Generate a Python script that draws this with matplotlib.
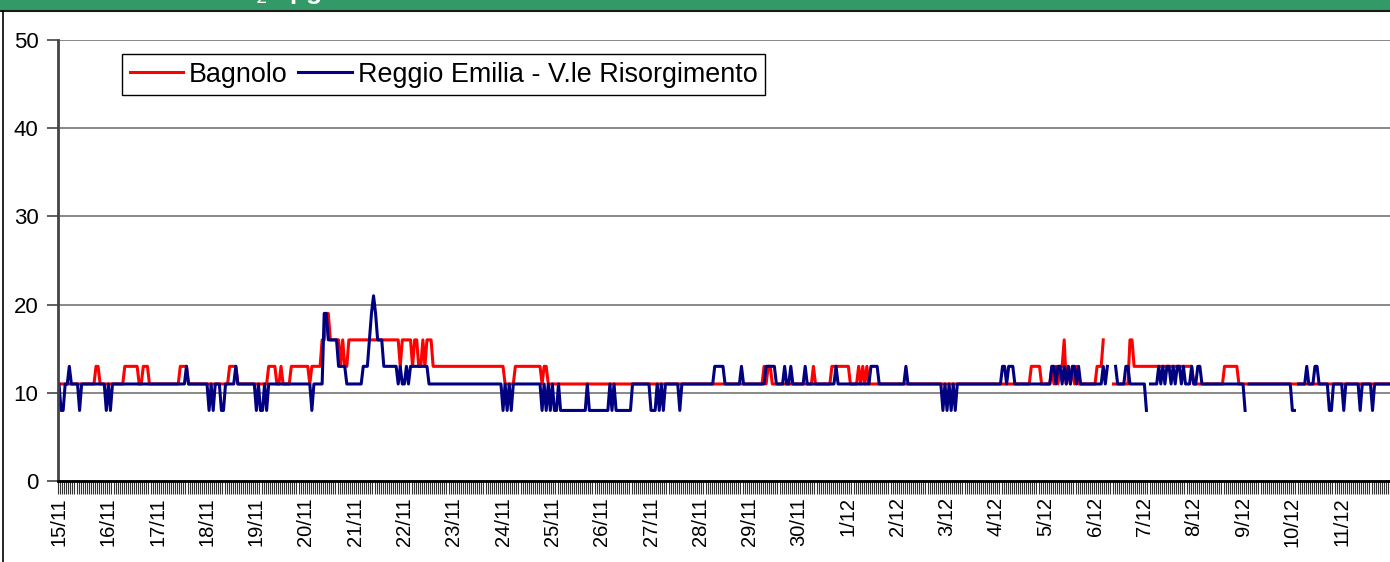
import numpy as np
import matplotlib
matplotlib.use("Agg")
import matplotlib.pyplot as plt
from matplotlib.patches import Rectangle
from matplotlib.lines import Line2D

plt.rcParams['font.family'] = ['Liberation Sans', 'DejaVu Sans']

nan = np.nan

# day labels (one every 24 hourly values)
days = ["15/11", "16/11", "17/11", "18/11", "19/11", "20/11", "21/11", "22/11",
        "23/11", "24/11", "25/11", "26/11", "27/11", "28/11", "29/11", "30/11",
        "1/12", "2/12", "3/12", "4/12", "5/12", "6/12", "7/12", "8/12",
        "9/12", "10/12", "11/12"]

# hourly values, one row per day (ug/m3)
bagnolo = [
    [11,11,11,11,11,11,11,11,11,11,11,11,11,11,11,11,11,11,13,13,11,11,11,11],
    [11,11,11,11,11,11,11,11,13,13,13,13,13,13,13,11,11,13,13,13,11,11,11,11],
    [11,11,11,11,11,11,11,11,11,11,11,13,13,13,13,11,11,11,11,11,11,11,11,11],
    [11,11,11,11,11,11,11,11,11,11,11,13,13,13,13,11,11,11,11,11,11,11,11,11],
    [11,11,11,11,11,11,13,13,13,13,11,11,13,11,11,11,11,13,13,13,13,13,13,13],
    [13,13,11,13,13,13,13,13,16,16,19,19,16,16,16,16,16,13,16,13,13,16,16,16],
    [16,16,16,16,16,16,16,16,16,16,16,16,16,16,16,16,16,16,16,16,16,16,13,16],
    [16,16,16,16,13,16,16,13,13,16,13,16,16,16,13,13,13,13,13,13,13,13,13,13],
    [13,13,13,13,13,13,13,13,13,13,13,13,13,13,13,13,13,13,13,13,13,13,13,13],
    [13,11,11,11,11,11,13,13,13,13,13,13,13,13,13,13,13,13,13,11,13,13,11,11],
    [11,11,11,11,11,11,11,11,11,11,11,11,11,11,11,11,11,11,11,11,11,11,11,11],
    [11,11,11,11,11,11,11,11,11,11,11,11,11,11,11,11,11,11,11,11,11,11,11,11],
    [11,11,11,11,11,11,11,11,11,11,11,11,11,11,11,11,11,11,11,11,11,11,11,11],
    [11,11,11,11,11,11,11,11,11,11,11,11,11,11,11,11,11,11,11,11,11,11,11,11],
    [11,11,11,11,11,11,11,13,11,13,13,11,11,11,11,11,11,11,11,11,11,11,11,11],
    [11,11,11,11,11,11,11,13,11,11,11,11,11,11,11,11,13,13,13,13,13,13,13,13],
    [13,11,11,11,11,13,11,13,11,13,11,11,11,11,11,11,11,11,11,11,11,11,11,11],
    [11,11,11,11,11,11,11,11,11,11,11,11,11,11,11,11,11,11,11,11,11,11,11,11],
    [11,11,11,11,11,11,11,11,11,11,11,11,11,11,11,11,11,11,11,11,11,11,11,11],
    [11,11,11,11,11,11,11,11,11,11,11,11,11,11,11,11,11,13,13,13,13,13,11,11],
    [11,11,11,13,11,13,11,13,13,16,11,13,11,13,11,13,11,11,11,11,11,11,11,11],
    [11,13,13,13,16,nan,nan,nan,nan,11,11,11,11,11,11,11,11,16,16,13,13,13,13,13],
    [13,13,13,13,13,13,13,13,13,13,13,13,13,13,13,13,13,13,13,13,13,13,13,13],
    [11,11,11,11,11,11,11,11,11,11,11,11,11,11,11,13,13,13,13,13,13,13,11,11],
    [11,11,11,11,11,11,11,11,11,11,11,11,11,11,11,11,11,11,11,11,11,11,11,11],
    [11,11,11,11,11,11,11,11,11,11,11,11,11,11,11,11,11,11,11,11,11,11,11,11],
    [11,11,11,11,11,11,11,11,11,11,11,11,11,11,11,11,11,11,11,11,11,11,11,11],
]

reggio = [
    [11,8,8,11,11,13,11,11,11,11,8,11,11,11,11,11,11,11,11,11,11,11,11,8],
    [11,8,11,11,11,11,11,11,11,11,11,11,11,11,11,11,11,11,11,11,11,11,11,11],
    [11,11,11,11,11,11,11,11,11,11,11,11,11,11,13,11,11,11,11,11,11,11,11,11],
    [11,8,11,8,11,11,11,8,8,11,11,11,11,11,13,11,11,11,11,11,11,11,11,11],
    [8,11,8,8,11,8,11,11,11,11,11,11,11,11,11,11,11,11,11,11,11,11,11,11],
    [11,11,11,8,11,11,11,11,11,19,19,16,16,16,16,16,13,13,13,13,11,11,11,11],
    [11,11,11,11,13,13,13,16,19,21,19,16,16,16,13,13,13,13,13,13,13,11,13,11],
    [11,13,11,13,13,13,13,13,13,13,13,13,11,11,11,11,11,11,11,11,11,11,11,11],
    [11,11,11,11,11,11,11,11,11,11,11,11,11,11,11,11,11,11,11,11,11,11,11,11],
    [8,11,8,11,8,11,11,11,11,11,11,11,11,11,11,11,11,11,11,8,11,8,11,8],
    [11,8,8,11,8,8,8,8,8,8,8,8,8,8,8,8,8,11,8,8,8,8,8,8],
    [8,8,8,8,11,8,11,8,8,8,8,8,8,8,8,11,11,11,11,11,11,11,11,11],
    [8,8,8,11,8,11,8,11,11,11,11,11,11,11,8,11,11,11,11,11,11,11,11,11],
    [11,11,11,11,11,11,11,13,13,13,13,13,11,11,11,11,11,11,11,11,13,11,11,11],
    [11,11,11,11,11,11,11,11,13,13,13,13,13,11,11,11,11,13,11,11,13,11,11,11],
    [11,11,11,13,11,11,11,11,11,11,11,11,11,11,11,11,11,11,13,11,11,11,11,11],
    [11,11,11,11,11,11,11,11,11,11,11,13,13,13,13,11,11,11,11,11,11,11,11,11],
    [11,11,11,11,13,11,11,11,11,11,11,11,11,11,11,11,11,11,11,11,11,11,8,11],
    [8,11,8,11,8,11,11,11,11,11,11,11,11,11,11,11,11,11,11,11,11,11,11,11],
    [11,11,11,13,13,11,13,13,13,11,11,11,11,11,11,11,11,11,11,11,11,11,11,11],
    [11,11,11,13,13,11,13,13,11,13,11,13,11,13,13,11,13,11,11,11,11,11,11,11],
    [11,11,11,11,13,11,13,nan,nan,nan,13,11,11,11,11,13,13,11,11,11,11,11,11,11],
    [11,8,nan,11,11,11,11,13,11,13,11,13,13,11,13,11,13,13,11,13,11,11,11,13],
    [11,11,13,13,11,11,11,11,11,11,11,11,11,11,11,11,11,11,11,11,11,11,11,11],
    [11,8,nan,11,11,11,11,11,11,11,11,11,11,11,11,11,11,11,11,11,11,11,11,11],
    [8,8,nan,11,11,11,11,13,11,11,11,13,13,11,11,11,11,11,8,8,11,11,11,11],
    [11,8,11,11,11,11,11,11,11,8,11,11,11,11,11,8,11,11,11,11,11,11,11,11],
]

y_bag = np.array(bagnolo, dtype=float).ravel()
y_reg = np.array(reggio, dtype=float).ravel()
hours = np.arange(len(y_bag))

W, H = 1390, 562
fig = plt.figure(figsize=(W / 100, H / 100), dpi=100)
ax = fig.add_axes([58 / W, 1 - 481 / H, 1 - 58 / W, 441 / H])

# header band (title mostly cut off at the top of the picture)
fig.patches.append(Rectangle((0, 1 - 10 / H), 1, 10 / H, transform=fig.transFigure,
                             facecolor='#339966', edgecolor='none'))
fig.lines.append(Line2D([0, 1], [1 - 10.5 / H] * 2, transform=fig.transFigure,
                        color='#1a1a1a', lw=1.5))
fig.lines.append(Line2D([3.5 / W] * 2, [0, 1 - 10.5 / H], transform=fig.transFigure,
                        color='black', lw=1.2))
fig.text(217 / W, 1 + 1.5 / H, "SO$_2$   µg/m³", color='white', fontsize=19,
         fontweight='bold', ha='left', va='baseline')

ax.plot(hours, y_bag, color='#FF0000', lw=2.2, label='Bagnolo')
ax.plot(hours, y_reg, color='#000080', lw=2.2, label='Reggio Emilia - V.le Risorgimento')

ax.set_ylim(0, 50)
ax.set_xlim(-0.5, 644.6)
ax.set_yticks(range(0, 51, 10))
ax.grid(axis='y', color='#7f7f7f', lw=1.3)
ax.set_axisbelow(True)

ax.set_xticks(np.arange(0, len(days) * 24, 24))
ax.set_xticklabels(days, rotation=90, fontsize=14.5)
ax.set_xticks(np.arange(-0.5, len(hours), 1), minor=True)
ax.tick_params(axis='x', which='major', length=0, pad=11.5)
ax.tick_params(axis='x', which='minor', length=9, width=0.8, color='#333333')
ax.tick_params(axis='y', labelsize=16, length=8, width=1.2, color='#444444', pad=6)

for s in ['top', 'right']:
    ax.spines[s].set_visible(False)
ax.spines['left'].set_color('#444444')
ax.spines['left'].set_linewidth(2)
ax.spines['bottom'].set_color('black')
ax.spines['bottom'].set_linewidth(2)

leg = ax.legend(loc='upper left', bbox_to_anchor=(122 / W, 1 - 54 / H),
                bbox_transform=fig.transFigure, ncol=2, fontsize=19.4,
                frameon=True, fancybox=False, edgecolor='black', framealpha=1,
                borderaxespad=0, borderpad=0.28, handlelength=2.0,
                handletextpad=0.2, columnspacing=0.4)
leg.get_frame().set_linewidth(1.0)

fig.savefig('out.png', dpi=100)
